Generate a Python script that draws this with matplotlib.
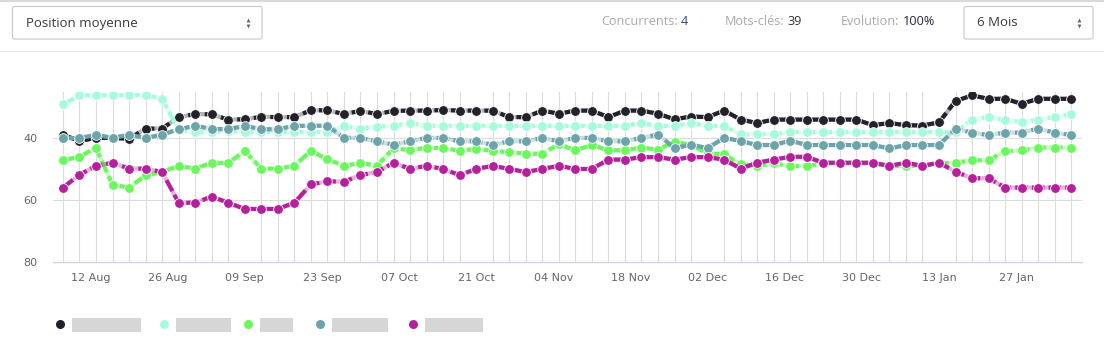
import matplotlib
matplotlib.use("Agg")
import matplotlib.pyplot as plt
from matplotlib.patches import FancyBboxPatch, Rectangle
import numpy as np
import pandas as pd

# dates (one point every 3 days)
dates = pd.date_range("2019-08-07", periods=62, freq="3D")

s_black = [39.0, 41.0, 40.0, 40.0, 40.3, 37.0, 37.0, 33.3, 32.3, 32.4,
           34.1, 34.0, 33.2, 33.3, 33.3, 31.1, 31.1, 32.3, 31.3, 32.3,
           31.3, 31.2, 31.2, 31.0, 31.2, 31.2, 31.2, 33.3, 33.3, 31.2,
           32.2, 31.2, 31.2, 33.3, 31.2, 31.2, 32.2, 34.0, 33.1, 33.3,
           31.2, 34.1, 35.2, 34.1, 34.1, 34.1, 34.1, 34.1, 34.1, 35.9,
           35.2, 35.9, 36.0, 35.0, 28.1, 26.3, 27.4, 27.4, 29.0, 27.4,
           27.4, 27.4]
s_mint = [29.2, 26.3, 26.3, 26.2, 26.2, 26.2, 27.3, 37.5, 38.1, 38.1,
          37.8, 38.1, 38.1, 38.1, 38.1, 38.1, 38.1, 36.1, 37.0, 36.4,
          36.1, 35.2, 36.1, 36.1, 36.1, 36.1, 36.1, 36.1, 36.1, 36.1,
          36.1, 36.1, 36.1, 36.1, 36.1, 35.2, 36.1, 36.1, 35.2, 36.1,
          36.2, 38.8, 38.8, 38.8, 38.1, 38.1, 38.1, 38.1, 38.1, 38.1,
          38.1, 38.1, 38.1, 38.1, 38.1, 34.1, 33.3, 34.1, 34.9, 34.1,
          33.3, 32.3]
s_green = [47.2, 46.1, 43.2, 55.1, 56.0, 52.1, 51.0, 49.0, 49.9, 48.0,
           48.1, 44.2, 49.9, 49.9, 49.0, 44.2, 46.9, 49.0, 48.1, 48.9,
           43.4, 43.9, 43.2, 43.2, 44.2, 43.5, 44.2, 44.6, 45.1, 45.1,
           42.0, 44.0, 42.3, 44.0, 44.0, 43.1, 43.8, 41.2, 42.3, 45.0,
           45.3, 48.5, 49.1, 48.2, 49.1, 49.1, 48.2, 48.2, 48.2, 48.2,
           49.1, 49.0, 49.0, 48.2, 48.0, 47.2, 47.2, 44.3, 44.0, 43.1,
           43.1, 43.1]
s_teal = [40.0, 40.1, 39.0, 40.0, 39.0, 40.0, 39.0, 37.2, 36.1, 37.1,
          37.2, 36.1, 37.2, 37.2, 36.1, 36.1, 36.1, 40.0, 40.0, 41.1,
          42.2, 41.1, 40.0, 40.0, 41.1, 41.1, 42.2, 41.1, 41.1, 40.0,
          41.1, 40.0, 40.0, 41.1, 41.1, 40.0, 38.9, 43.3, 42.2, 43.3,
          40.0, 41.0, 42.3, 42.3, 40.9, 42.3, 42.3, 42.3, 42.3, 42.3,
          43.4, 42.3, 42.3, 42.3, 37.0, 38.3, 39.1, 38.3, 38.3, 37.0,
          38.3, 39.1]
s_magenta = [56.0, 51.9, 49.0, 48.0, 49.9, 49.9, 51.0, 60.9, 60.9, 58.9,
             60.9, 62.9, 62.9, 62.9, 60.9, 55.0, 54.0, 54.1, 52.0, 51.0,
             48.0, 50.0, 49.0, 50.0, 52.0, 50.0, 49.0, 50.0, 51.0, 50.0,
             49.0, 50.0, 50.0, 47.0, 47.0, 46.2, 46.2, 47.0, 46.2, 46.2,
             47.0, 49.9, 48.0, 47.0, 46.1, 46.1, 48.0, 48.0, 48.0, 48.0,
             49.0, 48.0, 49.0, 48.0, 50.9, 53.0, 53.0, 56.0, 56.0, 56.0,
             56.0, 56.0]

series = [s_black, s_mint, s_green, s_teal, s_magenta]
colors = ["#23222a", "#a6fbdb", "#6af85e", "#6ca4aa", "#b5219b"]
legend_w = [69, 55, 33, 56, 58]

tick_dates = ["2019-08-12", "2019-08-26", "2019-09-09", "2019-09-23", "2019-10-07",
              "2019-10-21", "2019-11-04", "2019-11-18", "2019-12-02", "2019-12-16",
              "2019-12-30", "2020-01-13", "2020-01-27"]
tick_labels = ["12 Aug", "26 Aug", "09 Sep", "23 Sep", "07 Oct", "21 Oct", "04 Nov",
               "18 Nov", "02 Dec", "16 Dec", "30 Dec", "13 Jan", "27 Jan"]

W, H = 1104, 340
fig = plt.figure(figsize=(W / 100, H / 100), dpi=100)

# chart area
ax = fig.add_axes([53 / W, 1 - 262 / H, (1082 - 53) / W, (262 - 92) / H])
for s, c in zip(series, colors):
    ax.plot(dates, s, color=c, lw=3.0, alpha=0.35, solid_capstyle="butt", zorder=3)
    ax.plot(dates, s, color=c, lw=3.0, dashes=(3, 1), marker="o", ms=7,
            mec="white", mew=0.6, zorder=3)

ax.set_ylim(80, 25.2)
ax.set_xlim(dates[0] - pd.Timedelta(days=1.8), dates[-1] + pd.Timedelta(days=1.95))
ax.set_yticks([40, 60, 80])
ax.set_xticks(pd.to_datetime(tick_dates))
ax.set_xticklabels(tick_labels)
ax.set_xticks(dates, minor=True)
ax.grid(True, axis="y", color="#dcdcdc", lw=0.8)
ax.grid(True, axis="x", which="minor", color="#dcdcdc", lw=0.8)
ax.tick_params(axis="both", which="both", length=0, labelsize=8, labelcolor="#666666")
ax.tick_params(axis="y", pad=11)
ax.tick_params(axis="x", pad=8)
for sp in ["top", "right", "left"]:
    ax.spines[sp].set_visible(False)
ax.spines["bottom"].set_color("#ccd6eb")
ax.spines["bottom"].set_linewidth(1)
ax.set_axisbelow(True)

# overlay in pixel coordinates for header and legend
ov = fig.add_axes([0, 0, 1, 1], facecolor="none")
ov.set_xlim(0, W)
ov.set_ylim(H, 0)
ov.axis("off")

ov.plot([0, W], [0.8, 0.8], color="#d9d9d9", lw=1.5)
ov.plot([0, W], [50.5, 50.5], color="#e6e6e6", lw=0.8)

for x0, x1, label in [(12.5, 262, "Position moyenne"), (964, 1093, "6 Mois")]:
    ov.add_patch(FancyBboxPatch((x0, 6.5), x1 - x0, 32.5,
                                boxstyle="round,pad=0,rounding_size=2",
                                fc="white", ec="#c8c8c8", lw=0.8))
    ov.text(x0 + 13, 23, label, fontsize=9.5, color="#3a3a3a",
            family="Open Sans", va="center", ha="left")
    ov.plot([x1 - 14], [20.3], marker="^", ms=2.8, color="#666666", mew=0)
    ov.plot([x1 - 14], [25.8], marker="v", ms=2.8, color="#666666", mew=0)

# header stats: grey label followed by a darker value
fig.canvas.draw()
rend = fig.canvas.get_renderer()
for x, lab, val, vc in [(601, "Concurrents:", "4", "#1e4d78"),
                         (725, "Mots-clés:", "39", "#333333"),
                         (841, "Evolution:", "100%", "#2b2341")]:
    t = ov.text(x, 21.5, lab, fontsize=9.1, color="#a9a9a9", family="Open Sans",
                va="center", ha="left")
    bb = t.get_window_extent(rend)
    x_end = ov.transData.inverted().transform((bb.x1, 0))[0]
    ov.text(x_end + 3, 21.5, val, fontsize=9.1, color=vc, family="Open Sans",
            va="center", ha="left")

# legend (names are blurred in the reference)
leg_x = [60, 164, 248, 320, 413]
for lx, c, w in zip(leg_x, colors, legend_w):
    ov.plot([lx], [323.5], marker="o", ms=6.5, color=c, mew=0)
    ov.add_patch(Rectangle((lx + 12, 318), w, 13.5, fc="#d2d2d2", ec="none", alpha=0.9))

fig.savefig("out.png", dpi=100)
